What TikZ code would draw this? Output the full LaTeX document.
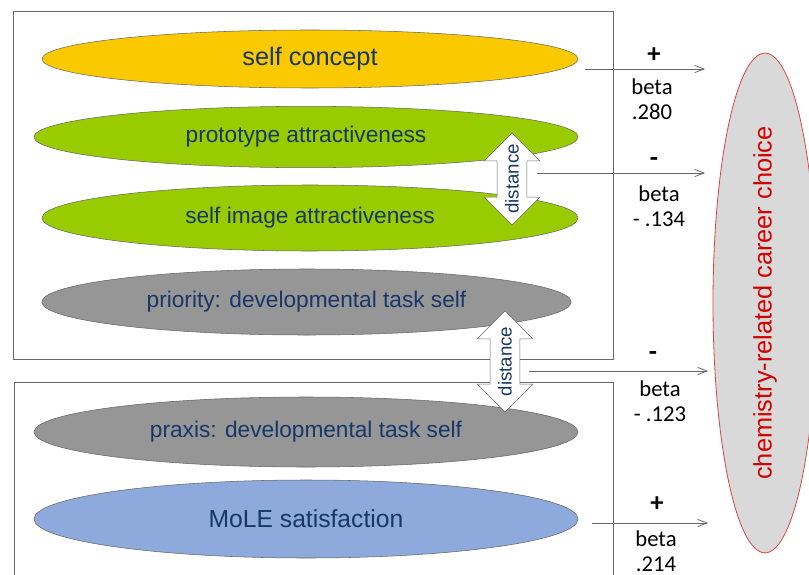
\documentclass[tikz,border=0pt]{standalone}
\usepackage{fontspec}
\setmainfont{Liberation Sans}
\newfontfamily\betafont{Carlito}
\usetikzlibrary{shapes.geometric,shapes.arrows,arrows.meta}
\definecolor{ecyellow}{RGB}{250,201,0}
\definecolor{ecgreen}{RGB}{153,204,0}
\definecolor{ecgray}{RGB}{150,150,150}
\definecolor{ecblue}{RGB}{142,169,219}
\definecolor{ectext}{RGB}{23,55,105}
\definecolor{ecred}{RGB}{210,0,0}
\definecolor{ecredline}{RGB}{215,70,70}
\definecolor{ecline}{RGB}{105,105,105}
\begin{document}
\begin{tikzpicture}[x=0.75pt, y=-0.75pt,
  blob/.style={ellipse, draw=black!60, line width=0.4pt, inner sep=0pt, text=ectext, font=\fontsize{17}{20}\selectfont},
  dist/.style={double arrow, draw=ecline, line width=0.5pt, fill=white, rotate=90, double arrow head extend=9.75pt, inner xsep=0pt, inner ysep=10.9pt},
  disttext/.style={rotate=90, inner sep=0pt, text=ectext, font=\fontsize{14}{17}\selectfont},
  link/.style={draw=ecline, line width=0.6pt, -{Straight Barb[length=7pt,width=5.5pt]}},
  betalbl/.style={font=\betafont\fontsize{17}{18.75}\selectfont, align=center},
  signlbl/.style={font=\betafont\bfseries\fontsize{20}{22}\selectfont}]

\clip (0,0) rectangle (809,574);

% the two boxes
\draw[ecline, line width=0.75pt] (13,12) rectangle (613,359);
\draw[ecline, line width=0.75pt] (14,382) rectangle (613,600);

% self ellipses
\node[blob, fill=ecyellow, minimum width=402pt, minimum height=43.5pt, font=\fontsize{19}{22}\selectfont] (sc) at (310,59) {self concept};
\node[blob, fill=ecgreen, minimum width=408pt, minimum height=46pt] (pa) at (306,137) {prototype attractiveness};
\node[blob, fill=ecgreen, minimum width=402pt, minimum height=49.5pt] (sia) at (310,218) {self image attractiveness};
\node[blob, fill=ecgray, minimum width=397pt, minimum height=49.5pt] (pri) at (306.5,302) {priority: developmental task self};
\node[blob, fill=ecgray, minimum width=408pt, minimum height=52.5pt] (pra) at (306,432) {praxis: developmental task self};
\node[blob, fill=ecblue, minimum width=408pt, minimum height=58.5pt, font=\fontsize{18.5}{22}\selectfont] (mole) at (306,519) {MoLE satisfaction};

% distances
\node[dist, minimum height=69pt] (d1) at (512,179) {};
\node[disttext] (d1t) at (d1.center) {distance};
\node[dist, minimum height=75.75pt] (d2) at (505,361.5) {};
\node[disttext] (d2t) at (d2.center) {distance};

% career choice
\node[ellipse, draw=ecredline, fill=black!15, line width=0.6pt, inner sep=0pt, rotate=90,
  minimum width=372pt, minimum height=78pt, text=ecred, font=\fontsize{19}{22}\selectfont] (cc) at (765,303) {chemistry-related career choice};

% effects
\coordinate (a1s) at (585,69);  \coordinate (a1e) at (705,69);
\coordinate (a2s) at (537,173); \coordinate (a2e) at (705,173);
\coordinate (a3s) at (529,371); \coordinate (a3e) at (708,371);
\coordinate (a4s) at (592,523); \coordinate (a4e) at (708,523);
\draw[link] (a1s) -- (a1e);
\draw[link] (a2s) -- (a2e);
\draw[link] (a3s) -- (a3e);
\draw[link] (a4s) -- (a4e);

\node[signlbl] (s1) at (654,55) {+};
\node[betalbl] (b1) at (652,99) {beta\\.280};
\node[signlbl] (s2) at (654,162) {-};
\node[betalbl] (b2) at (659,206) {beta\\- .134};
\node[signlbl] (s3) at (653,356) {-};
\node[betalbl] (b3) at (660,401) {beta\\- .123};
\node[signlbl] (s4) at (657,504) {+};
\node[betalbl] (b4) at (656,551) {beta\\.214};
\end{tikzpicture}
\end{document}
